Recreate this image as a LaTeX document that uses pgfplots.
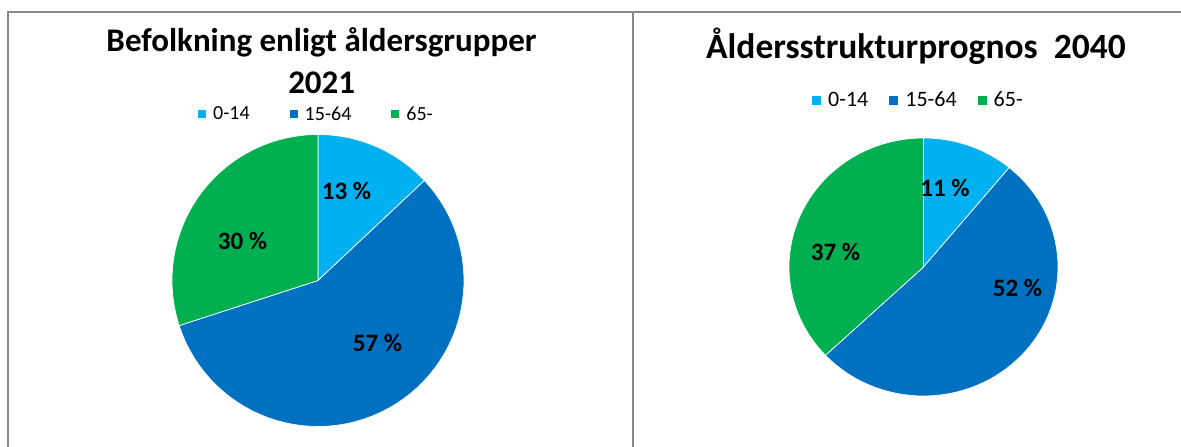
\documentclass[border=0pt]{standalone}
\usepackage{pgfplots}
\pgfplotsset{compat=1.18}
\usepackage{fontspec}
\setmainfont{Carlito}
\definecolor{cA}{HTML}{00B0F0}
\definecolor{cB}{HTML}{0070C0}
\definecolor{cC}{HTML}{00B050}
\definecolor{frame}{HTML}{898989}
% slice: start percent, end percent, colour
\newcommand{\slice}[3]{%
  \addplot[fill=#3, draw=white, line width=0.7pt, domain=#1:#2, samples=60, variable=\t, forget plot]
    ({sin(3.6*\t)},{cos(3.6*\t)}) -- (axis cs:0,0) -- cycle;}
\pgfplotsset{
  piestyle/.style={
    scale only axis, hide axis, clip=false, anchor=center,
    xmin=-1, xmax=1, ymin=-1, ymax=1,
    legend columns=3,
  }
}
\begin{document}
\begin{tikzpicture}
\useasboundingbox (0,0) rectangle (1181pt,447pt);
\fill[white] (0,0) rectangle (1181pt,447pt);
% frame lines
\draw[frame, line width=2pt] (8pt,0) -- (8pt,435pt) -- (1181pt,435pt);
\draw[frame, line width=2pt] (633pt,0) -- (633pt,435pt);
% titles
\node[anchor=base, inner sep=0pt, font=\fontsize{33}{40}\selectfont\bfseries] at (321.5pt,395pt) {Befolkning enligt åldersgrupper};
\node[anchor=base, inner sep=0pt, font=\fontsize{33}{40}\selectfont\bfseries] at (321.7pt,353.7pt) {2021};
\node[anchor=base, inner sep=0pt, font=\fontsize{35.5}{42}\selectfont\bfseries] at (916pt,388.7pt) {Åldersstrukturprognos\ \ 2040};

% left pie: 2021
\begin{axis}[piestyle, width=292pt, height=292pt, at={(318pt,166.5pt)},
  legend image code/.code={\fill[#1, draw=none] (0pt,-4pt) rectangle (8pt,4pt);},
  legend style={draw=none, fill=none, inner sep=0pt, at={(0.089,1.070)}, anchor=west,
    font=\fontsize{20}{24}\selectfont, nodes={inner sep=0pt},
    /tikz/every odd column/.append style={column sep=7pt},
    /tikz/every even column/.append style={column sep=40pt}}]
\slice{0}{13}{cA}
\slice{13}{70}{cB}
\slice{70}{100}{cC}
\addlegendimage{fill=cA}\addlegendentry{0-14}
\addlegendimage{fill=cB}\addlegendentry{15-64}
\addlegendimage{fill=cC}\addlegendentry{65-}
\node[font=\fontsize{25}{29}\selectfont\bfseries] at (axis cs:0.195,0.616) {13 \%};
\node[font=\fontsize{25}{29}\selectfont\bfseries] at (axis cs:0.408,-0.431) {57 \%};
\node[font=\fontsize{25}{29}\selectfont\bfseries] at (axis cs:-0.517,0.274) {30 \%};
\end{axis}

% right pie: 2040
\begin{axis}[piestyle, width=269pt, height=258pt, at={(923.5pt,180pt)},
  legend image code/.code={\fill[#1, draw=none] (0pt,-4.5pt) rectangle (9pt,4.5pt);},
  legend style={draw=none, fill=none, inner sep=0pt, at={(0.0855,1.147)}, anchor=west,
    font=\fontsize{22}{26}\selectfont, nodes={inner sep=0pt},
    /tikz/every odd column/.append style={column sep=7pt},
    /tikz/every even column/.append style={column sep=21pt}}]
\slice{0}{11}{cA}
\slice{11}{63}{cB}
\slice{63}{100}{cC}
\addlegendimage{fill=cA}\addlegendentry{0-14}
\addlegendimage{fill=cB}\addlegendentry{15-64}
\addlegendimage{fill=cC}\addlegendentry{65-}
\node[font=\fontsize{25}{29}\selectfont\bfseries] at (axis cs:0.160,0.612) {11 \%};
\node[font=\fontsize{25}{29}\selectfont\bfseries] at (axis cs:0.699,-0.163) {52 \%};
\node[font=\fontsize{25}{29}\selectfont\bfseries] at (axis cs:-0.654,0.116) {37 \%};
\end{axis}
\end{tikzpicture}
\end{document}
